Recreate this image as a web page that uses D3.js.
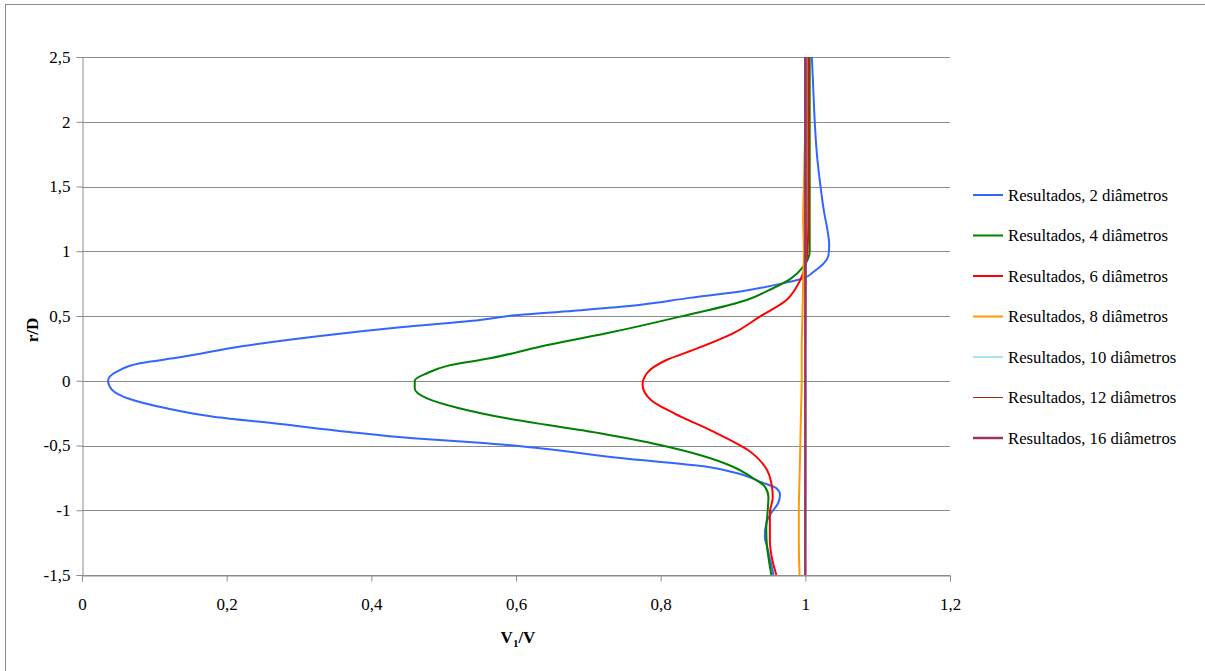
<!DOCTYPE html>
<html>
<head>
<meta charset="utf-8">
<script src="https://cdn.jsdelivr.net/npm/d3@7"></script>
<style>
  body { margin: 0; background: #fff; }
  svg { display: block; font-family: "Liberation Serif", "Times New Roman", serif; }
  svg text { font-family: "Liberation Serif", "Times New Roman", serif; }
</style>
</head>
<body>
<svg id="chart" width="1205" height="671"></svg>
<script>
// Series: [V1/V, r/D] pairs
const serie2 = [[1.009, 2.5], [1.011, 2.25], [1.013, 2.0], [1.016, 1.75], [1.021, 1.5], [1.026, 1.3],
  [1.031, 1.15], [1.033, 1.05], [1.032, 0.97], [1.026, 0.91], [1.011, 0.84], [0.997, 0.79], [0.975, 0.76],
  [0.91, 0.69], [0.84, 0.64], [0.77, 0.585], [0.68, 0.54], [0.59, 0.5], [0.55, 0.469], [0.44, 0.413],
  [0.329, 0.346], [0.223, 0.268], [0.135, 0.181], [0.08, 0.135], [0.048, 0.07], [0.036, 0.0],
  [0.041, -0.066], [0.066, -0.141], [0.117, -0.213], [0.182, -0.278], [0.274, -0.334], [0.366, -0.393],
  [0.458, -0.444], [0.55, -0.478], [0.633, -0.522], [0.748, -0.599], [0.864, -0.664], [0.91, -0.72],
  [0.937, -0.779], [0.96, -0.831], [0.965, -0.88], [0.962, -0.95], [0.953, -1.02], [0.946, -1.1],
  [0.944, -1.2], [0.948, -1.3], [0.952, -1.4], [0.956, -1.5]];

const serie4 = [[1.006, 2.5], [1.006, 2.0], [1.006, 1.5], [1.006, 1.2], [1.006, 1.0], [0.997, 0.88],
  [0.979, 0.785], [0.95, 0.7], [0.919, 0.624], [0.827, 0.495], [0.725, 0.366], [0.633, 0.263],
  [0.564, 0.173], [0.505, 0.115], [0.477, 0.058], [0.46, 0.0], [0.46, -0.06], [0.477, -0.136],
  [0.52, -0.21], [0.587, -0.29], [0.716, -0.406], [0.799, -0.496], [0.854, -0.573], [0.9, -0.664],
  [0.928, -0.753], [0.944, -0.818], [0.949, -0.9], [0.948, -1.0], [0.946, -1.15], [0.947, -1.28],
  [0.95, -1.4], [0.953, -1.5]];

const serie6 = [[1.004, 2.5], [1.004, 2.0], [1.004, 1.5], [1.004, 1.2], [1.003, 1.0], [0.997, 0.83],
  [0.988, 0.726], [0.974, 0.624], [0.937, 0.495], [0.9, 0.366], [0.845, 0.238], [0.808, 0.16],
  [0.781, 0.058], [0.775, -0.03], [0.787, -0.15], [0.818, -0.25], [0.873, -0.393], [0.924, -0.548],
  [0.945, -0.67], [0.953, -0.79], [0.955, -0.9], [0.951, -1.02], [0.951, -1.23], [0.955, -1.4],
  [0.96, -1.5]];

const serie8 = [[1.0, 2.5], [1.0, 2.0], [0.999, 1.75], [0.998, 1.5], [0.997, 1.25], [0.998, 1.0],
  [0.997, 0.75], [0.996, 0.5], [0.995, 0.25], [0.995, 0.0], [0.994, -0.25], [0.993, -0.5],
  [0.992, -0.75], [0.991, -1.0], [0.991, -1.25], [0.992, -1.5]];

const serie10 = [[1.002, 2.5], [1.002, 1.5], [1.001, 0.5], [1.001, -0.5], [1.0, -1.5]];
const serie12 = [[1.001, 2.5], [1.001, 1.0], [1.0, 0.0], [1.0, -1.5]];
const serie16 = [[1.0, 2.5], [1.0, 1.0], [1.0, 0.0], [1.0, -1.0], [1.0, -1.5]];

const seriesNames = ["Resultados, 2 diâmetros", "Resultados, 4 diâmetros", "Resultados, 6 diâmetros",
  "Resultados, 8 diâmetros", "Resultados, 10 diâmetros", "Resultados, 12 diâmetros", "Resultados, 16 diâmetros"];
const seriesColors = ["#3366ff", "#008000", "#ff0000", "#ff9900", "#4cc8d2", "#993300", "#993366"];
const seriesWidths = [2, 2, 2, 2, 1, 1, 2.5];

const xTicks = [0, 0.2, 0.4, 0.6, 0.8, 1, 1.2];
const yTicks = [-1.5, -1, -0.5, 0, 0.5, 1, 1.5, 2, 2.5];

const allSeries = [serie2, serie4, serie6, serie8, serie10, serie12, serie16];

const svg = d3.select("#chart");
const margin = { top: 57, right: 255, bottom: 96, left: 82 };
const width = 1205, height = 671;
const serif = "'Liberation Serif', 'Times New Roman', serif";

// outer chart border
svg.append("rect")
  .attr("x", 5.5).attr("y", 4.5)
  .attr("width", 1300).attr("height", 800)
  .attr("fill", "none").attr("stroke", "#8c8c8c");

const x = d3.scaleLinear().domain([0, 1.2]).range([margin.left, width - margin.right]);
const y = d3.scaleLinear().domain([-1.5, 2.5]).range([height - margin.bottom, margin.top]);

const fmt = d => String(d).replace(".", ",");

// horizontal gridlines
svg.append("g")
  .selectAll("line")
  .data(yTicks)
  .enter().append("line")
  .attr("x1", x(0)).attr("x2", x(1.2))
  .attr("y1", d => Math.round(y(d)) + 0.5).attr("y2", d => Math.round(y(d)) + 0.5)
  .attr("stroke", "#8c8c8c");

// x axis
const xAxis = svg.append("g")
  .attr("transform", `translate(0,${Math.round(y(-1.5)) + 0.5})`)
  .call(d3.axisBottom(x).tickValues(xTicks).tickFormat(fmt).tickSize(6).tickPadding(16));

// y axis
const yAxis = svg.append("g")
  .attr("transform", `translate(${Math.round(x(0)) + 0.5},0)`)
  .call(d3.axisLeft(y).tickValues(yTicks).tickFormat(fmt).tickSize(6).tickPadding(6));

[xAxis, yAxis].forEach(g => {
  g.attr("font-family", serif).attr("font-size", 17);
  g.select(".domain").attr("stroke", "#8c8c8c");
  g.selectAll(".tick line").attr("stroke", "#8c8c8c");
  g.selectAll(".tick text").attr("fill", "#000");
});

// curves
const line = d3.line().x(d => x(d[0])).y(d => y(d[1])).curve(d3.curveMonotoneY);
svg.append("g")
  .selectAll("path")
  .data(allSeries)
  .enter().append("path")
  .attr("d", line)
  .attr("fill", "none")
  .attr("stroke", (d, i) => seriesColors[i])
  .attr("stroke-width", (d, i) => seriesWidths[i])
  .attr("stroke-linejoin", "round");

// axis titles
const xt = svg.append("text")
  .attr("x", 518).attr("y", 643)
  .attr("text-anchor", "middle")
  .attr("font-family", serif)
  .style("font-size", "17px").style("font-weight", "bold");
xt.append("tspan").text("V");
xt.append("tspan").attr("dy", 4).style("font-size", "11px").text("1");
xt.append("tspan").attr("dy", -4).text("/V");

svg.append("text")
  .attr("transform", "translate(38,330) rotate(-90)")
  .attr("text-anchor", "middle")
  .attr("font-family", serif)
  .style("font-size", "17px").style("font-weight", "bold")
  .text("r/D");

// legend
const legend = svg.append("g").attr("transform", "translate(973,195)")
  .attr("font-family", serif);
const rows = legend.selectAll("g")
  .data(seriesNames)
  .enter().append("g")
  .attr("transform", (d, i) => `translate(0,${i * 40.5})`);
rows.append("line")
  .attr("x1", 0).attr("x2", 30)
  .attr("stroke", (d, i) => seriesColors[i])
  .attr("stroke-width", (d, i) => seriesWidths[i]);
rows.append("text")
  .attr("x", 35).attr("y", 5.5)
  .style("font-size", "16.7px")
  .text(d => d);
</script>
</body>
</html>
